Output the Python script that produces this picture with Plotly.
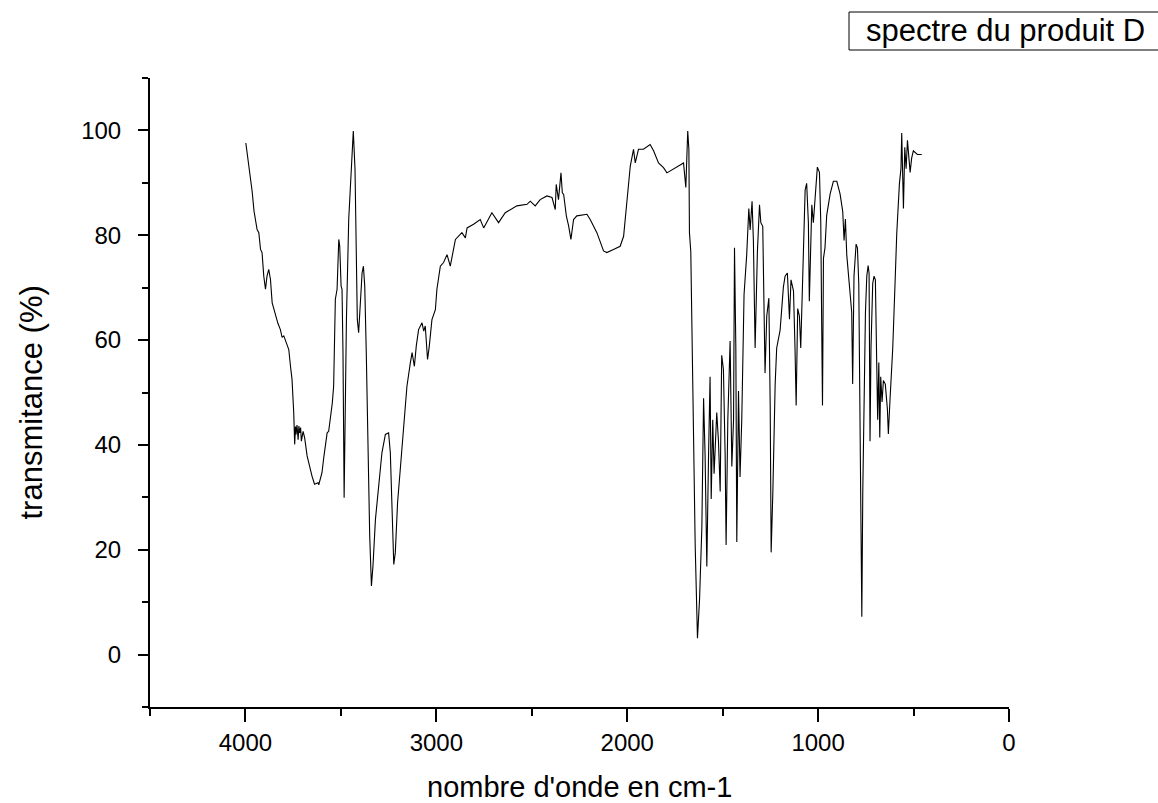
import plotly.graph_objects as go

# IR spectrum of product D: wavenumber (cm-1) and transmittance (%)
wavenumber = [
    3998, 3990, 3983, 3975, 3965, 3955, 3939, 3930, 3921, 3913, 3904, 3895, 3887, 3878,
    3869, 3860, 3843, 3830, 3817, 3808, 3799, 3786, 3773, 3764, 3756, 3747, 3742, 3738,
    3735, 3730, 3724, 3720, 3716, 3711, 3707, 3698, 3690, 3677, 3665, 3651, 3638, 3628,
    3620, 3616, 3599, 3590, 3572, 3564, 3555, 3545, 3538, 3533, 3529, 3520, 3511, 3506,
    3499, 3494, 3489, 3483, 3478, 3471, 3459, 3447, 3435, 3426, 3421, 3414, 3407, 3398,
    3389, 3382, 3375, 3367, 3358, 3349, 3340, 3332, 3319, 3302, 3285, 3267, 3250, 3241,
    3232, 3223, 3215, 3203, 3189, 3171, 3154, 3136, 3127, 3115, 3105, 3093, 3075, 3066,
    3058, 3046, 3037, 3023, 3005, 2997, 2979, 2962, 2944, 2927, 2900, 2866, 2848, 2839,
    2805, 2770, 2752, 2709, 2674, 2639, 2578, 2525, 2508, 2482, 2456, 2421, 2394, 2377,
    2372, 2360, 2347, 2340, 2333, 2319, 2307, 2295, 2281, 2264, 2211, 2194, 2159, 2124,
    2107, 2072, 2037, 2019, 2002, 1984, 1967, 1958, 1941, 1915, 1880, 1862, 1836, 1810,
    1792, 1758, 1705, 1693, 1688, 1683, 1677, 1674, 1667, 1653, 1644, 1632, 1621, 1609,
    1600, 1592, 1583, 1574, 1566, 1560, 1552, 1545, 1531, 1522, 1513, 1505, 1496, 1487,
    1482, 1473, 1461, 1452, 1443, 1438, 1431, 1426, 1417, 1409, 1400, 1388, 1374, 1363,
    1356, 1346, 1339, 1330, 1318, 1307, 1300, 1290, 1283, 1278, 1269, 1258, 1251, 1246,
    1237, 1225, 1217, 1199, 1182, 1173, 1161, 1150, 1142, 1129, 1121, 1115, 1107, 1098,
    1091, 1080, 1068, 1060, 1051, 1046, 1033, 1025, 1011, 1004, 993, 986, 981, 977,
    972, 964, 955, 937, 920, 902, 885, 871, 864, 857, 850, 833, 824, 819,
    812, 801, 794, 787, 780, 775, 771, 766, 759, 752, 745, 738, 733, 728,
    723, 714, 707, 700, 693, 688, 682, 677, 672, 665, 658, 648, 637, 632,
    623, 609, 597, 588, 574, 566, 562, 557, 553, 546, 539, 532, 526, 518,
    510, 501, 480, 457,
]
transmittance = [
    97.6, 95.5, 93.8, 91.0, 88.4, 84.6, 81.1, 80.5, 77.3, 76.7, 72.2, 69.7, 72.2, 73.5,
    71.6, 67.1, 64.6, 63.2, 62.0, 60.5, 60.8, 59.3, 58.2, 55.0, 52.5, 46.1, 40.1, 43.5,
    42.0, 43.8, 41.0, 43.6, 42.3, 43.3, 40.7, 42.6, 41.4, 37.9, 36.0, 34.0, 32.5, 32.6,
    32.8, 32.4, 34.7, 37.5, 42.3, 42.6, 44.9, 48.0, 51.2, 60.0, 67.8, 69.7, 79.2, 77.9,
    70.3, 69.7, 57.6, 29.9, 44.9, 63.9, 83.0, 92.6, 99.9, 92.6, 76.7, 63.9, 61.4, 66.5,
    72.8, 74.1, 70.3, 57.6, 38.5, 22.6, 13.1, 16.9, 25.8, 32.1, 38.5, 42.0, 42.3, 38.5,
    25.8, 17.2, 19.4, 29.0, 35.3, 43.6, 51.2, 55.7, 57.6, 55.0, 58.9, 62.0, 63.3, 61.7,
    62.7, 56.3, 58.8, 63.9, 65.8, 69.7, 74.1, 74.8, 76.3, 74.1, 79.2, 80.5, 79.5, 81.4,
    82.1, 83.0, 81.4, 84.3, 82.4, 84.3, 85.6, 85.9, 86.5, 85.6, 86.8, 87.5, 87.2, 84.9,
    89.7, 86.8, 91.9, 88.1, 87.8, 83.7, 81.8, 79.2, 83.0, 83.7, 84.0, 83.0, 80.5, 77.0,
    76.7, 77.3, 77.9, 79.8, 86.8, 93.2, 96.4, 93.8, 96.4, 96.4, 97.3, 96.1, 93.8, 92.9,
    91.9, 92.6, 93.8, 89.1, 93.2, 99.9, 96.4, 80.5, 76.9, 38.0, 20.9, 3.1, 10.6, 24.3,
    48.9, 38.0, 16.8, 38.0, 53.0, 29.7, 44.8, 34.5, 46.2, 40.7, 31.1, 57.1, 54.4, 38.0,
    20.9, 44.8, 59.8, 35.9, 44.8, 77.6, 58.5, 21.5, 50.3, 33.9, 44.8, 68.7, 76.3, 85.1,
    81.0, 86.5, 79.0, 58.5, 76.9, 85.8, 82.4, 81.7, 65.3, 53.7, 64.6, 68.0, 47.5, 19.5,
    31.1, 51.6, 58.5, 61.9, 70.1, 72.2, 72.8, 64.0, 71.5, 69.4, 58.5, 47.5, 66.0, 64.6,
    58.5, 70.8, 88.6, 89.9, 82.4, 67.4, 85.8, 82.4, 90.6, 93.0, 92.0, 82.4, 61.9, 47.5,
    75.6, 77.6, 83.8, 87.9, 90.3, 90.3, 87.9, 84.5, 79.0, 83.1, 76.3, 68.0, 65.3, 51.6,
    72.2, 78.3, 77.6, 70.8, 44.8, 24.3, 7.2, 31.1, 51.6, 65.3, 72.2, 74.2, 72.8, 40.7,
    58.5, 70.8, 72.2, 71.5, 55.7, 44.8, 55.7, 41.4, 53.0, 48.2, 52.3, 51.6, 46.8, 42.1,
    48.9, 58.5, 70.8, 80.4, 89.9, 92.7, 99.5, 92.7, 85.1, 96.8, 92.7, 98.1, 94.7, 92.0,
    94.7, 96.1, 95.4, 95.4,
]

x_tick_values = [4000, 3000, 2000, 1000, 0]
y_tick_values = [0, 20, 40, 60, 80, 100]

FONT = "Liberation Sans, Arial, sans-serif"

fig = go.Figure()
fig.add_trace(go.Scatter(
    x=wavenumber, y=transmittance, mode="lines",
    line=dict(color="black", width=1.1),
    showlegend=False, hoverinfo="x+y",
))

axis_common = dict(
    showline=True, linecolor="black", linewidth=2,
    showgrid=False, zeroline=False,
    ticks="outside", tickcolor="black", tickwidth=2,
    tickfont=dict(family=FONT, size=24, color="black"),
)

fig.update_xaxes(
    range=[4500, 0], tickvals=x_tick_values, ticklen=13,
    minor=dict(ticks="outside", dtick=500, tick0=0, ticklen=7,
               tickwidth=2, tickcolor="black", showgrid=False),
    ticklabelstandoff=0,
    **axis_common,
)
fig.update_yaxes(
    range=[-10, 110], tickvals=y_tick_values, ticklen=10,
    minor=dict(ticks="outside", dtick=10, tick0=0, ticklen=6,
               tickwidth=2, tickcolor="black", showgrid=False),
    ticklabelstandoff=12,
    **axis_common,
)

# axis titles
fig.add_annotation(
    text="nombre d'onde en cm-1", xref="paper", yref="paper",
    x=0.5, y=0, xanchor="center", yanchor="middle", yshift=-80,
    showarrow=False, font=dict(family=FONT, size=29, color="black"),
)
fig.add_annotation(
    text="transmitance (%)", xref="paper", yref="paper",
    x=0, y=0.5, xanchor="center", yanchor="middle", xshift=-119, yshift=-10,
    textangle=-90, showarrow=False, font=dict(family=FONT, size=31, color="black"),
)

# legend box with the series name
fig.add_shape(
    type="rect", xref="paper", yref="paper",
    x0=(849 - 150) / 859, x1=1.25, y0=(707 - 50) / 629, y1=(707 - 12) / 629,
    line=dict(color="black", width=1), fillcolor="white",
)
fig.add_annotation(
    text="spectre du produit D", xref="paper", yref="paper",
    x=(864 - 150) / 859, y=(707 - 31) / 629, xanchor="left", yanchor="middle",
    showarrow=False, font=dict(family=FONT, size=31, color="black"),
)

fig.update_layout(
    width=1158, height=803,
    margin=dict(l=150, r=149, t=78, b=96, autoexpand=False),
    paper_bgcolor="white", plot_bgcolor="white",
)

fig.write_html("out.html")
